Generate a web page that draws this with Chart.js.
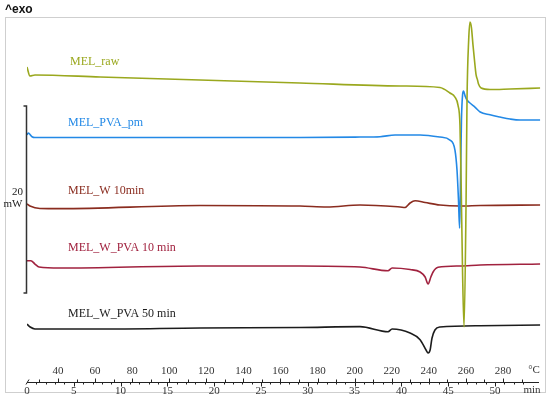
<!DOCTYPE html>
<html>
<head>
<meta charset="utf-8">
<script src="https://cdn.jsdelivr.net/npm/chart.js@4.4.1/dist/chart.umd.min.js"></script>
<style>
  body { margin: 0; background: #fff; }
  canvas { display: block; }
</style>
</head>
<body>
<canvas id="dscChart" width="550" height="399"></canvas>
<script>
// x = temperature (°C), y = heat flow (mW, curves stacked with offsets)
const melRaw = [
  [23.3, 34.0], [24.9, 33.05], [27.6, 33.16], [62.7, 32.94], [116.6, 32.62],
  [170.5, 32.3], [224.5, 31.98], [246.0, 31.82], [251.4, 31.23], [254.1, 30.8],
  [255.7, 29.95], [256.8, 27.8], [257.4, 22.0], [258.2, 12.0], [259.0, 6.2],
  [260.1, 19.8], [260.6, 30.5], [261.5, 36.9], [262.2, 38.82], [263.0, 38.2],
  [263.8, 36.4], [264.9, 34.2], [265.5, 33.16], [266.3, 32.6], [266.8, 32.19],
  [268.2, 31.76], [273.0, 31.6], [283.8, 31.66], [300.0, 31.76]
];
const melPvaPm = [
  [23.3, 26.75], [24.0, 26.95], [26.0, 26.55], [27.6, 26.47], [116.6, 26.47],
  [170.5, 26.47], [202.9, 26.52], [213.7, 26.56], [221.8, 26.74], [235.3, 26.74],
  [246.0, 26.52], [251.4, 26.2], [254.1, 25.13], [255.2, 22.99], [256.0, 19.79],
  [256.6, 16.79], [257.1, 21.93], [257.6, 28.34], [258.2, 31.02], [258.7, 31.44],
  [259.6, 30.9], [260.6, 30.48], [262.2, 30.16], [265.0, 29.7], [267.7, 29.2],
  [273.0, 28.9], [278.4, 28.66], [283.8, 28.45], [289.2, 28.34], [300.0, 28.34]
];
const melW10 = [
  [23.3, 19.36], [24.9, 19.14], [30.3, 18.88], [41.1, 18.86], [116.6, 19.2],
  [170.5, 19.14], [185.0, 19.04], [202.9, 19.25], [224.5, 19.04], [227.2, 18.99],
  [229.9, 19.47], [232.6, 19.71], [238.0, 19.52], [246.0, 19.25], [256.8, 19.14],
  [267.7, 19.2], [300.0, 19.25]
];
const melWPva10 = [
  [23.3, 13.29], [25.4, 13.29], [27.6, 12.94], [29.8, 12.62], [41.1, 12.51],
  [116.6, 12.73], [170.5, 12.73], [202.9, 12.62], [218.0, 12.22], [220.2, 12.51],
  [229.9, 12.35], [235.3, 12.09], [238.0, 11.55], [239.6, 10.8], [241.1, 11.55],
  [242.3, 12.09], [245.0, 12.59], [256.8, 12.73], [267.7, 12.83], [300.0, 12.94]
];
const melWPva50 = [
  [23.3, 6.52], [25.0, 6.2], [27.6, 5.99], [62.7, 5.99], [116.6, 6.1],
  [170.5, 6.15], [202.9, 6.24], [218.0, 5.7], [220.2, 5.99], [229.9, 5.56],
  [235.3, 4.85], [238.5, 3.74], [239.6, 3.42], [240.7, 3.74], [241.7, 5.0],
  [243.3, 5.88], [246.0, 6.2], [267.7, 6.34], [300.0, 6.42]
];

const seriesNames = ['MEL_raw', 'MEL_PVA_pm', 'MEL_W 10min', 'MEL_W_PVA 10 min', 'MEL_W_PVA 50 min'];
const seriesColors = ['#9aa81e', '#2389e6', '#8a2c1f', '#a1223f', '#1c1c1c'];
const seriesData = [melRaw, melPvaPm, melW10, melWPva10, melWPva50];
// label anchor: [°C, mW]
const labelPos = [[46.5, 34.58], [45.4, 27.99], [45.4, 20.78], [45.4, 14.68], [45.4, 7.59]];

const tempLabels = [40, 60, 80, 100, 120, 140, 160, 180, 200, 220, 240, 260, 280];
const minuteLabels = [0, 5, 10, 15, 20, 25, 30, 35, 40, 45, 50];
const startTemp = 23.3;   // °C at 0 min
const heatRate = 5.048;   // °C per min
const scaleBarMw = 20;

const axisPlugin = {
  id: 'dscAxis',
  afterDraw(chart) {
    const ctx = chart.ctx;
    const xs = chart.scales.x, ys = chart.scales.y;
    ctx.save();

    // frame
    ctx.strokeStyle = '#cfcfcf';
    ctx.lineWidth = 1;
    ctx.strokeRect(5.5, 17.5, 540, 375);

    // ^exo
    ctx.fillStyle = '#111';
    ctx.font = 'bold 12px "Liberation Sans", Arial, sans-serif';
    ctx.textAlign = 'left';
    ctx.textBaseline = 'middle';
    ctx.fillText('^exo', 5, 10);

    // scale bar
    const bx = 26.5;
    const yTop = ys.getPixelForValue(29.85);
    const yBot = ys.getPixelForValue(29.85 - scaleBarMw);
    ctx.strokeStyle = '#333';
    ctx.lineWidth = 1.5;
    ctx.beginPath();
    ctx.moveTo(bx - 3, yTop); ctx.lineTo(bx, yTop); ctx.lineTo(bx, yBot); ctx.lineTo(bx - 3, yBot);
    ctx.stroke();
    ctx.fillStyle = '#222';
    ctx.font = '11px "Liberation Serif", "Times New Roman", serif';
    ctx.textAlign = 'center';
    ctx.fillText(String(scaleBarMw), 17.5, 192);
    ctx.textAlign = 'right';
    ctx.fillText('mW', 22.5, 204);

    // curve labels
    ctx.font = '12px "Liberation Serif", "Times New Roman", serif';
    ctx.textAlign = 'left';
    seriesNames.forEach((n, i) => {
      ctx.fillStyle = seriesColors[i];
      ctx.fillText(n, xs.getPixelForValue(labelPos[i][0]), ys.getPixelForValue(labelPos[i][1]));
    });

    // bottom axis
    const ay = 382.5;
    const x0 = xs.getPixelForValue(startTemp);
    const x1 = 539;
    ctx.strokeStyle = '#222';
    ctx.lineWidth = 1;
    ctx.beginPath();
    ctx.moveTo(x0, ay); ctx.lineTo(x1, ay);
    ctx.moveTo(x0 - 1, ay + 2); ctx.lineTo(x0 + 2, ay - 3);
    for (let t = 30; t <= 290; t += 10) {
      const px = Math.round(xs.getPixelForValue(t)) + 0.5;
      ctx.moveTo(px, ay); ctx.lineTo(px, ay - (t % 20 === 0 ? 4 : 3));
    }
    for (let m = 1; m <= 53; m++) {
      const px = Math.round(xs.getPixelForValue(startTemp + heatRate * m)) + 0.5;
      ctx.moveTo(px, ay); ctx.lineTo(px, ay + (m % 5 === 0 ? 4 : 2));
    }
    ctx.stroke();

    ctx.fillStyle = '#333';
    ctx.font = '11px "Liberation Serif", "Times New Roman", serif';
    ctx.textAlign = 'center';
    tempLabels.forEach(t => ctx.fillText(String(t), xs.getPixelForValue(t), 371));
    minuteLabels.forEach(m => ctx.fillText(String(m), xs.getPixelForValue(startTemp + heatRate * m), 391));
    ctx.fillText('°C', 534, 370);
    ctx.fillText('min', 532, 390);
    ctx.restore();
  }
};

new Chart(document.getElementById('dscChart').getContext('2d'), {
  type: 'line',
  data: {
    datasets: seriesData.map((d, i) => ({
      label: seriesNames[i],
      data: d.map(p => ({ x: p[0], y: p[1] })),
      borderColor: seriesColors[i],
      borderWidth: 1.6,
      pointRadius: 0,
      fill: false,
      cubicInterpolationMode: 'monotone'
    }))
  },
  options: {
    responsive: false,
    animation: false,
    layout: { padding: { left: 27, right: 9, top: 17, bottom: 14 } },
    scales: {
      x: { type: 'linear', min: 23.3, max: 300.5, display: false },
      y: { type: 'linear', min: 0, max: 39.36, display: false }
    },
    plugins: {
      legend: { display: false },
      tooltip: { enabled: false }
    }
  },
  plugins: [axisPlugin]
});
</script>
</body>
</html>
